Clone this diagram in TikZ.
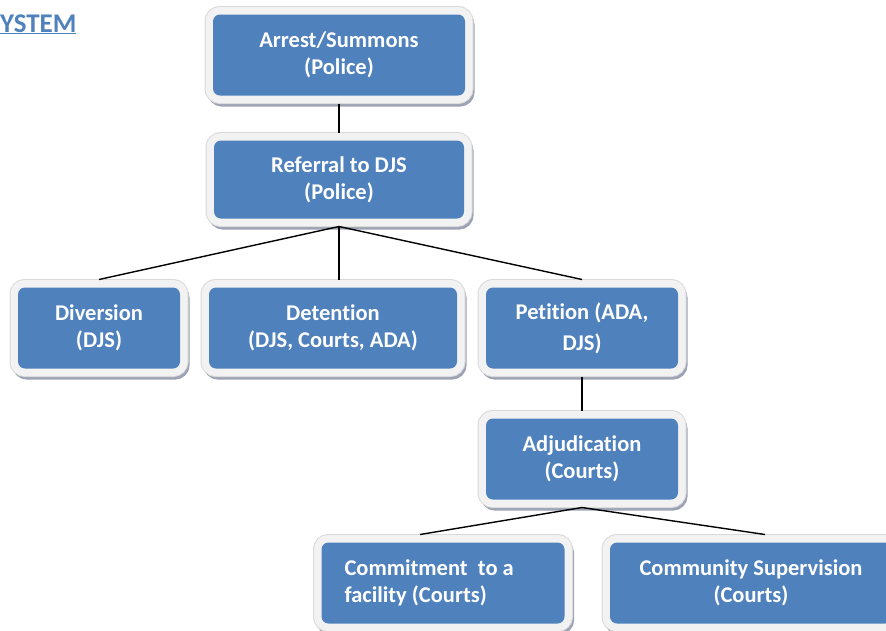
\documentclass[tikz,border=0pt]{standalone}
\usepackage{fontspec}
\setmainfont{Carlito}[Ligatures=NoCommon]
\usetikzlibrary{positioning}
\definecolor{boxblue}{HTML}{4F81BD}
\definecolor{framegrey}{HTML}{F2F2F2}
\definecolor{frameedge}{HTML}{D9D9D9}
\definecolor{shadowgrey}{HTML}{9DA3B4}

\begin{document}
\begin{tikzpicture}[x=1pt,y=-1pt]
		\newcommand\stepgap{29pt}
		\newcommand\rowgap{53pt}
		\newcommand\colgap{13pt}
		\newcommand\outgap{27pt}
		\tikzset{
		stage/.style={
			rounded corners=7pt, fill=boxblue, text=white,
			font=\bfseries\fontsize{22.5}{27}\selectfont,
			align=center, inner sep=0pt, outer sep=8pt, minimum height=81pt,
			preaction={draw=shadowgrey, line width=15pt,
				transform canvas={xshift=2pt, yshift=-3.5pt}},
			preaction={draw=frameedge, line width=17pt},
			preaction={draw=framegrey, line width=15pt},
		},
		link/.style={line width=1.4pt},
	}
		\useasboundingbox (0,0) rectangle (886,630);
		\node[anchor=base west, inner sep=0pt, text=boxblue,
			font=\bfseries\fontsize{27}{31}\selectfont] (title) at (0,32) {\underline{YSTEM}};
		% police
		\node[stage, minimum width=252pt] (arrest) at (339,55) {Arrest/Summons\\(Police)};
		\node[stage, minimum width=250pt, minimum height=78pt, below=\stepgap of arrest] (referral) {Referral to DJS\\(Police)};
		% middle row
		\node[stage, minimum width=248pt, below=\rowgap of referral, xshift=-6pt] (detention) {Detention\\(DJS, Courts, ADA)};
		\node[stage, minimum width=162pt, left=\colgap of detention] (diversion) {Diversion\\(DJS)};
		\node[stage, minimum width=192pt, right=\colgap of detention] (petition) {Petition (ADA,\\[4pt]DJS)};
		\node[stage, minimum width=192pt, below=34pt of petition] (adjudication) {Adjudication\\(Courts)};
		% outcomes
		\node[stage, minimum width=243pt, text width=197pt, align=flush left,
			below=\outgap of adjudication, xshift=-139pt] (commitment) {Commitment\ \ to a\\facility (Courts)};
		\node[stage, minimum width=282pt, below=\outgap of adjudication, xshift=169pt] (supervision) {Community Supervision\\(Courts)};

		\draw[link] (arrest) -- (referral);
		\draw[link] (referral.south) -- (diversion.north);
		\draw[link] (referral.south) -- ([xshift=6pt]detention.north);
		\draw[link] (referral.south) -- (petition.north);
		\draw[link] (petition) -- (adjudication);
		\draw[link] (adjudication.south) -- ([xshift=-23pt]commitment.north);
		\draw[link] (adjudication.south) -- ([xshift=14pt]supervision.north);
	\end{tikzpicture}
\end{document}
